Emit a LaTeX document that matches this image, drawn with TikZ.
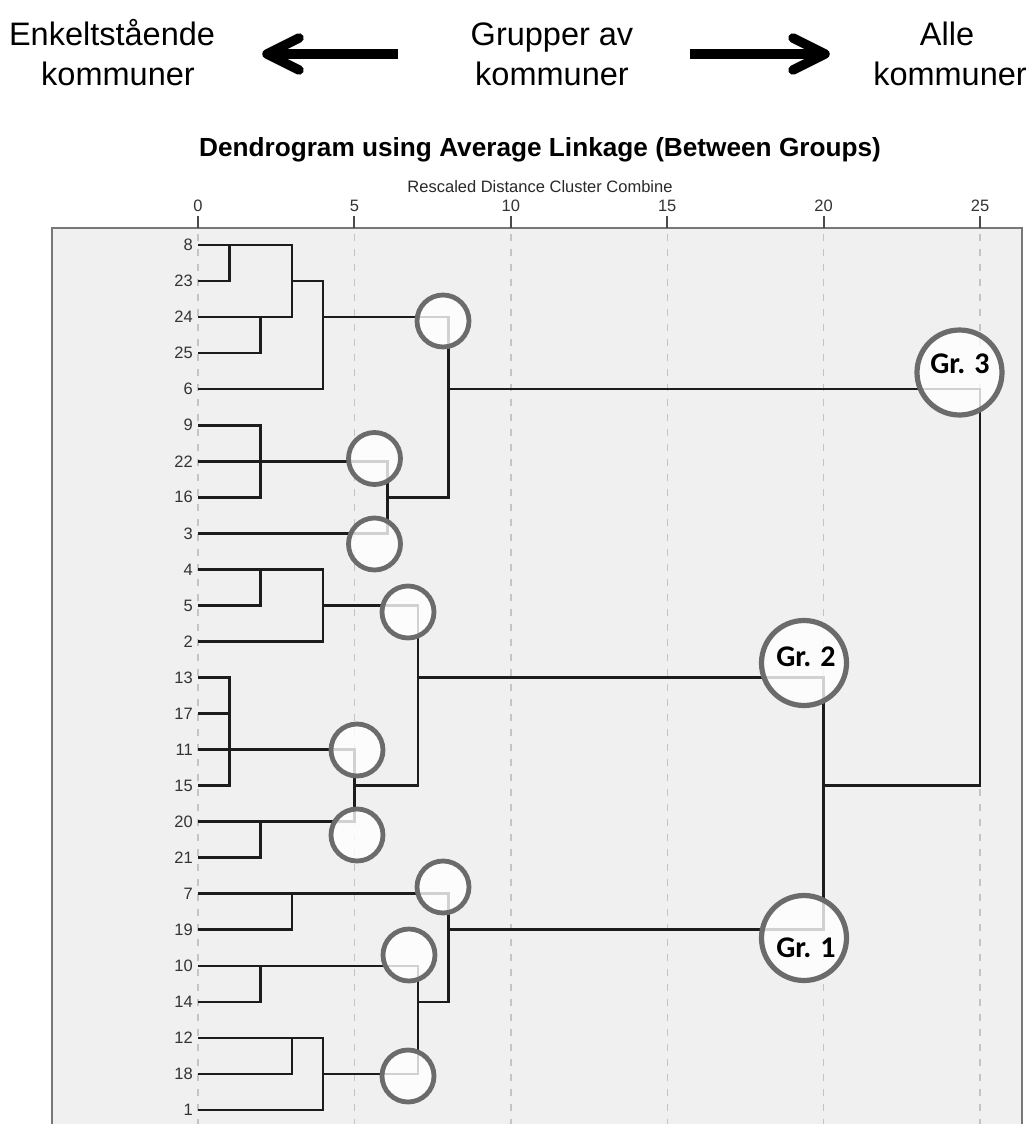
\documentclass[tikz,border=0pt]{standalone}
\usepackage{fontspec}
\setmainfont{Liberation Sans}
\newfontfamily\grfont{Carlito}
\usetikzlibrary{calc}
\definecolor{boxbg}{HTML}{F0F0F0}
\definecolor{gridc}{HTML}{C4C4C4}
\definecolor{ringc}{HTML}{6B6B6B}
\definecolor{labc}{HTML}{333333}
\definecolor{linec}{HTML}{1C1C1C}
\definecolor{borderc}{HTML}{777777}
\definecolor{tickc}{HTML}{4A4A4A}
\newcommand{\R}[1]{245+36.04*(#1)}
\newcommand{\U}[1]{198+31.28*(#1)}
\newcommand{\joinpair}[3]{\draw[tree] (#1) -- (#1 -| #3) -- (#2 -| #3) -- (#2);}
\begin{document}
\begin{tikzpicture}[x=1pt,y=-1pt,
  tree/.style={draw=linec, line width=2.6, line join=miter},
  leaflabel/.style={anchor=east, inner sep=0, text=labc, font=\fontsize{16.5}{18}\selectfont},
  ticklabel/.style={anchor=base, inner sep=0, text=labc, font=\fontsize{16.5}{18}\selectfont},
  toptext/.style={anchor=base, inner sep=0, text=black, font=\fontsize{32.5}{38}\selectfont},
  ring/.style={circle, draw=ringc, line width=4.8, fill=white, fill opacity=0.8, draw opacity=1, minimum size=52, inner sep=0},
  bigring/.style={ring, line width=5.2, minimum size=85},
  grlabel/.style={inner sep=0, text=black, font=\grfont\bfseries\fontsize{30}{34}\selectfont},
  bigarrow/.style={draw=black, line width=9.5},
]
\useasboundingbox (0,0) rectangle (1032,1124);
\fill[white] (0,0) rectangle (1032,1124);

% top texts and arrows
\node[toptext] (enk1) at (112,46) {Enkeltstående};
\node[toptext] (enk2) at (118,85) {kommuner};
\node[toptext] (grp1) at (552,46) {Grupper av};
\node[toptext] (grp2) at (552,85) {kommuner};
\node[toptext] (alle1) at (947,46) {Alle};
\node[toptext] (alle2) at (950,85) {kommuner};

\coordinate (aLtip) at (267,54);
\coordinate (aLtail) at (398,54);
\coordinate (aRtail) at (690,54);
\coordinate (aRtip) at (825,54);
\draw[bigarrow, line cap=butt] (aLtip) -- (aLtail);
\draw[bigarrow, line cap=round, line join=round] ($(aLtip)+(32,-16)$) -- (aLtip) -- ($(aLtip)+(32,16)$);
\draw[bigarrow, line cap=butt] (aRtail) -- (aRtip);
\draw[bigarrow, line cap=round, line join=round] ($(aRtip)+(-32,-16)$) -- (aRtip) -- ($(aRtip)+(-32,16)$);

% titles
\node[anchor=base, inner sep=0, font=\bfseries\fontsize{26.2}{30}\selectfont] (title) at (540,156) {Dendrogram using Average Linkage (Between Groups)};
\node[anchor=base, inner sep=0, text=labc!80!black, font=\fontsize{16.5}{18}\selectfont] (subtitle) at (540,192) {Rescaled Distance Cluster Combine};

% plot box
\filldraw[fill=boxbg, draw=borderc, line width=2.5] (52,228) rectangle (1022,1150);

% grid, ticks, tick labels
\foreach \v in {0,5,...,25} {
  \draw[gridc, line width=1.4, dash pattern=on 7pt off 8pt] ({\U{\v}},234) -- ({\U{\v}},1130);
  \draw[tickc, line width=2] ({\U{\v}},216) -- ({\U{\v}},228);
  \node[ticklabel] (tk\v) at ({\U{\v}},211) {\v};
}

% leaves
\foreach \lab [count=\i from 0] in {8,23,24,25,6,9,22,16,3,4,5,2,13,17,11,15,20,21,7,19,10,14,12,18,1} {
  \node[leaflabel] (lab\lab) at (193,{\R{\i}}) {\lab};
  \coordinate (L\lab) at (198,{\R{\i}});
}

% merge points
\coordinate (m1) at ({\U{1}},{\R{0}});
\coordinate (m2) at ({\U{2}},{\R{2}});
\coordinate (m3) at ({\U{3}},{\R{1}});
\coordinate (m4) at ({\U{4}},{\R{2}});
\coordinate (m5) at ({\U{2}},{\R{6}});
\coordinate (m6) at ({\U{6.06}},{\R{7}});
\coordinate (m7) at ({\U{8}},{\R{4}});
\coordinate (m8) at ({\U{2}},{\R{9}});
\coordinate (m9) at ({\U{4}},{\R{10}});
\coordinate (m10) at ({\U{1}},{\R{14}});
\coordinate (m11) at ({\U{2}},{\R{16}});
\coordinate (m12) at ({\U{5}},{\R{15}});
\coordinate (m13) at ({\U{7.03}},{\R{12}});
\coordinate (m14) at ({\U{3}},{\R{18}});
\coordinate (m15) at ({\U{2}},{\R{20}});
\coordinate (m16) at ({\U{3}},{\R{22}});
\coordinate (m17) at ({\U{4}},{\R{23}});
\coordinate (m18) at ({\U{7.03}},{\R{21}});
\coordinate (m19) at ({\U{8}},{\R{19}});
\coordinate (m20) at ({\U{20}},{\R{15}});
\coordinate (m21) at ({\U{25}},{\R{9}});

% tree
\joinpair{L8}{L23}{m1}
\joinpair{L24}{L25}{m2}
\joinpair{m1}{m2}{m3}
\joinpair{m3}{L6}{m4}
\joinpair{L9}{L16}{m5}
\draw[tree] (L22) -- (L22 -| m5);
\joinpair{m5}{L3}{m6}
\joinpair{m4}{m6}{m7}
\joinpair{L4}{L5}{m8}
\joinpair{m8}{L2}{m9}
\joinpair{L13}{L15}{m10}
\draw[tree] (L17) -- (L17 -| m10);
\draw[tree] (L11) -- (L11 -| m10);
\joinpair{L20}{L21}{m11}
\joinpair{m10}{m11}{m12}
\joinpair{m9}{m12}{m13}
\joinpair{L7}{L19}{m14}
\joinpair{L10}{L14}{m15}
\joinpair{L12}{L18}{m16}
\joinpair{m16}{L1}{m17}
\joinpair{m15}{m17}{m18}
\joinpair{m14}{m18}{m19}
\joinpair{m13}{m19}{m20}
\joinpair{m7}{m20}{m21}

% circles
\node[ring] (c1) at (443,321) {};
\node[ring] (c2) at (374.5,458.5) {};
\node[ring] (c3) at (374.5,544) {};
\node[ring] (c4) at (408,612) {};
\node[ring] (c5) at (357,750) {};
\node[ring] (c6) at (357,835) {};
\node[ring] (c7) at (443,887) {};
\node[ring] (c8) at (409,955) {};
\node[ring] (c9) at (408,1076) {};
\node[bigring] (g3) at (959.5,372.5) {};
\node[bigring] (g2) at (804,663) {};
\node[bigring] (g1) at (804,938) {};
\node[grlabel] (g3t) at (960,364) {Gr. 3};
\node[grlabel] (g2t) at (806,657) {Gr. 2};
\node[grlabel] (g1t) at (806,947.5) {Gr. 1};
\end{tikzpicture}
\end{document}
